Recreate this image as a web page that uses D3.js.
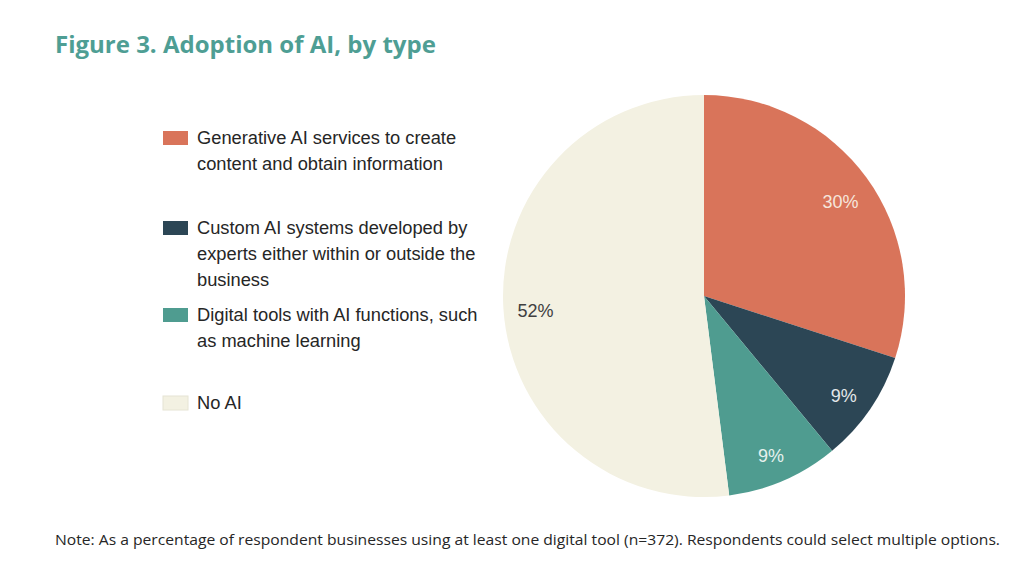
<!DOCTYPE html>
<html><head><meta charset="utf-8">
<script src="https://cdn.jsdelivr.net/npm/d3@7/dist/d3.min.js"></script>
<style>
html,body{margin:0;padding:0;background:#fff;}
svg{display:block;}
</style></head>
<body>
<svg id="chart" width="1024" height="573"></svg>
<script>
const categories = [
  "Generative AI services to create content and obtain information",
  "Custom AI systems developed by experts either within or outside the business",
  "Digital tools with AI functions, such as machine learning",
  "No AI"
];
const legendLines = [
  ["Generative AI services to create", "content and obtain information"],
  ["Custom AI systems developed by", "experts either within or outside the", "business"],
  ["Digital tools with AI functions, such", "as machine learning"],
  ["No AI"]
];
const values = [30, 9, 9, 52];
const colors = ["#D9745A", "#2C4655", "#4F9C90", "#F3F1E2"];
const labelColors = ["#F6E6DC", "#E4E8EA", "#E6F1EE", "#404040"];

const svg = d3.select("#chart");

svg.append("text")
  .attr("x", 55).attr("y", 53)
  .attr("font-family", "Open Sans, sans-serif")
  .attr("font-weight", 700)
  .attr("font-size", 24)
  .attr("fill", "#4E9E94")
  .text("Figure 3. Adoption of AI, by type");

// Pie
const cx = 704, cy = 296, r = 201;
const pie = d3.pie().sort(null).value(d => d)
  .startAngle(0).endAngle(2 * Math.PI);
const arcs = pie(values);
const arc = d3.arc().innerRadius(0).outerRadius(r);
const labelArc = d3.arc().innerRadius(r * 0.84).outerRadius(r * 0.84);

const g = svg.append("g").attr("transform", `translate(${cx},${cy})`);
g.selectAll("path.slice").data(arcs).enter().append("path")
  .attr("class", "slice")
  .attr("d", arc)
  .attr("fill", (d, i) => colors[i]);

g.selectAll("text.lbl").data(arcs).enter().append("text")
  .attr("class", "lbl")
  .attr("transform", d => `translate(${labelArc.centroid(d)})`)
  .attr("text-anchor", "middle")
  .attr("dy", "0.6em")
  .attr("font-family", "Liberation Sans, Arial, sans-serif")
  .attr("font-size", 18)
  .attr("fill", (d, i) => labelColors[i])
  .text(d => d.data + "%");

// Legend
const legendY = [138, 228, 315, 403];
const leg = svg.append("g");
legendLines.forEach((lines, i) => {
  leg.append("rect")
    .attr("x", 163).attr("y", legendY[i] - 7)
    .attr("width", 25).attr("height", 14)
    .attr("fill", colors[i])
    .attr("stroke", i === 3 ? "#e6e4d4" : "none");
  const t = leg.append("text")
    .attr("font-family", "Liberation Sans, Arial, sans-serif")
    .attr("font-size", 18.3)
    .attr("fill", "#262626");
  lines.forEach((ln, j) => {
    t.append("tspan")
      .attr("x", 197)
      .attr("y", legendY[i] + 6 + j * 26)
      .text(ln);
  });
});

svg.append("text")
  .attr("x", 55).attr("y", 545)
  .attr("font-family", "Open Sans, sans-serif")
  .attr("font-size", 14.5)
  .attr("fill", "#262626")
  .attr("textLength", 945)
  .attr("lengthAdjust", "spacingAndGlyphs")
  .text("Note: As a percentage of respondent businesses using at least one digital tool (n=372). Respondents could select multiple options.");
</script>
</body></html>
